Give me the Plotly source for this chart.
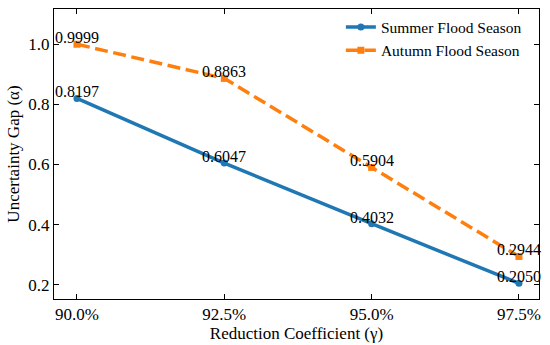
import plotly.graph_objects as go

categories = ["90.0%", "92.5%", "95.0%", "97.5%"]
summer = [0.8197, 0.6047, 0.4032, 0.2050]
autumn = [0.9999, 0.8863, 0.5904, 0.2944]
y_ticks = [0.2, 0.4, 0.6, 0.8, 1.0]

idx = list(range(len(categories)))
font = "Liberation Serif, Times New Roman, serif"

fig = go.Figure()
fig.add_trace(go.Scatter(x=idx, y=summer, mode="lines+markers", name="Summer Flood Season",
                         line=dict(color="#1f77b4", width=3.5),
                         marker=dict(symbol="circle", size=7, color="#1f77b4")))
fig.add_trace(go.Scatter(x=idx, y=autumn, mode="lines+markers", name="Autumn Flood Season",
                         line=dict(color="#ff7f0e", width=3.5, dash="13px,5.6px"),
                         marker=dict(symbol="square", size=7, color="#ff7f0e")))

for series in (summer, autumn):
    for i, v in zip(idx, series):
        fig.add_annotation(x=i, y=v, text=f"{v:.4f}", showarrow=False,
                           xanchor="center", yanchor="bottom", yshift=-4,
                           font=dict(family=font, size=16, color="black"))

fig.update_layout(
    width=550, height=345,
    margin=dict(l=54, r=11, t=9, b=46),
    paper_bgcolor="white", plot_bgcolor="white",
    font=dict(family=font, size=16, color="black"),
    showlegend=True,
    legend=dict(x=0.975, y=0.995, xanchor="right", yanchor="top", tracegroupgap=0,
                bgcolor="rgba(255,255,255,0)", font=dict(size=15.5, family=font)),
)
fig.update_xaxes(range=[-0.156, 3.136], tickmode="array", tickvals=idx, ticktext=categories,
                 ticks="inside", ticklen=5, tickcolor="black", showline=True, linecolor="black",
                 linewidth=1, mirror="ticks", showgrid=False, zeroline=False, automargin=False,
                 title=dict(text="Reduction Coefficient (γ)", standoff=2,
                            font=dict(size=17, family=font)),
                 tickfont=dict(size=17, family=font))
fig.update_yaxes(range=[0.153, 1.117], tickmode="array", tickvals=y_ticks,
                 ticktext=[f"{t:.1f}" for t in y_ticks],
                 ticks="inside", ticklen=5, tickcolor="black", showline=True, linecolor="black",
                 linewidth=1, mirror="ticks", showgrid=False, zeroline=False, automargin=False,
                 title=dict(text="Uncertainty Gap (α)", standoff=4,
                            font=dict(size=17, family=font)),
                 tickfont=dict(size=17, family=font))

fig.write_html("out.html", config={"displayModeBar": False},
               post_script="document.body.style.margin='0';")
